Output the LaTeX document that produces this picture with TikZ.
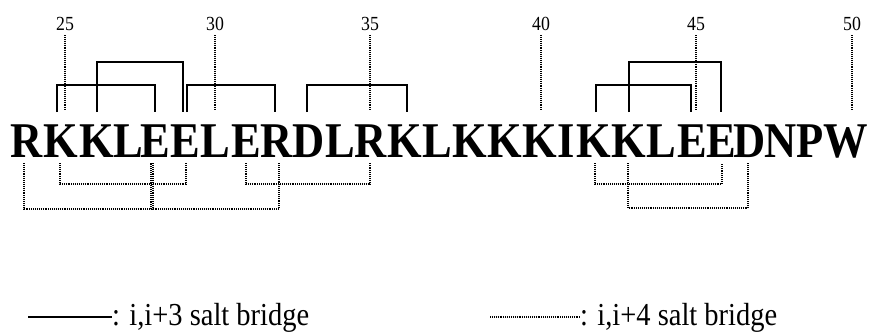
\documentclass[tikz,border=0pt]{standalone}
\usepackage{fontspec}
\setmainfont{Liberation Serif}[FakeStretch=0.89]
\usetikzlibrary{calc}

\tikzset{
  res/.style={inner sep=0pt, outer sep=0pt, anchor=base,
              font=\fontsize{50}{60}\selectfont\bfseries},
  num/.style={inner sep=0pt, outer sep=0pt, anchor=base,
              font=\fontsize{20}{24}\selectfont},
  legendtext/.style={inner sep=0pt, outer sep=0pt, anchor=base west,
              font=\fontsize{32}{37}\selectfont},
  salt3/.style={line width=2pt, line join=miter},
  salt4/.style={line width=1.9pt, dash pattern=on 1pt off 0.9pt},
  posmark/.style={line width=1.9pt, dash pattern=on 1pt off 0.9pt},
}

% bracket joining two residues: style, node A, shift A, node B, shift B, level, foot
\newcommand\bridgepath[7]{%
  \draw[#1] ($(#2 |- 0,#7)+(#3,0)$) -- ($(#2 |- 0,#6)+(#3,0)$)
         -- ($(#4 |- 0,#6)+(#5,0)$) -- ($(#4 |- 0,#7)+(#5,0)$);}

\begin{document}
\begin{tikzpicture}[x=1pt,y=-1pt]
\fill[white] (0,0) rectangle (873,335);
\useasboundingbox (0,0) rectangle (873,335);

% sequence, residues 24-50
\foreach \n/\l/\x in {24/R/27, 25/K/61, 26/K/97, 27/L/128, 28/E/155,
    29/E/185, 30/L/215, 31/E/246, 32/R/277, 33/D/309, 34/L/340, 35/R/371,
    36/K/405, 37/L/437, 38/K/470, 39/K/505, 40/K/540, 41/I/566, 42/K/594,
    43/K/629, 44/L/661, 45/E/692, 46/E/721, 47/D/750, 48/N/781, 49/P/810,
    50/W/846}
  \node[res] (r\n) at (\x,157) {\l};

% position numbers with dotted markers
\foreach \n/\dx in {25/4, 30/0, 35/-1, 40/1, 45/4, 50/6} {
  \node[num] (n\n) at ($(r\n |- 0,30)+(\dx,0)$) {\n};
  \coordinate (m\n) at ($(r\n |- 0,111)+(\dx,0)$);
  \draw[posmark] ($(n\n.south)+(0,5)$) -- (m\n);
}

% i,i+3 salt bridges (above)
\bridgepath{salt3}{r25}{-4}{r28}{0}{85}{112}
\bridgepath{salt3}{r26}{0}{r29}{-2}{62}{112}
\bridgepath{salt3}{r29}{2}{r32}{-2}{85}{112}
\bridgepath{salt3}{r33}{-2}{r36}{2}{85}{112}
\bridgepath{salt3}{r42}{2}{r45}{-1}{85}{112}
\bridgepath{salt3}{r43}{0}{r46}{0}{62}{112}

% i,i+4 salt bridges (below)
\bridgepath{salt4}{r25}{-1}{r29}{1}{184}{163}
\bridgepath{salt4}{r24}{-3}{r28}{-4}{209}{163}
\bridgepath{salt4}{r28}{-2}{r32}{2}{209}{163}
\bridgepath{salt4}{r31}{0}{r35}{-1}{184}{163}
\bridgepath{salt4}{r42}{1}{r46}{1}{184}{163}
\bridgepath{salt4}{r43}{-1}{r47}{-2}{208}{163}

% legend
\node[legendtext] (lg3) at (112,325) {: i,i+3 salt bridge};
\coordinate (lg3s) at (28,317);
\draw[line width=1.5pt] (lg3s) -- (lg3s -| lg3.west);
\node[legendtext] (lg4) at (580,325) {: i,i+4 salt bridge};
\coordinate (lg4s) at (490,317);
\draw[salt4, line width=1.2pt] (lg4s) -- (lg4s -| lg4.west);
\end{tikzpicture}
\end{document}
